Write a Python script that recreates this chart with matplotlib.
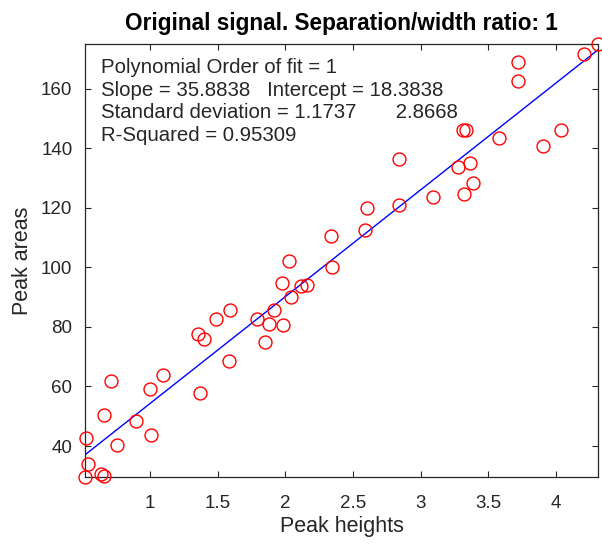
import numpy as np
import matplotlib
matplotlib.use("Agg")
import matplotlib.pyplot as plt

plt.rcParams['font.family'] = ['Liberation Sans', 'DejaVu Sans']

# Data
peak_heights = [0.52, 0.539, 0.53, 0.64, 0.66, 0.657, 0.713, 0.76, 0.897, 1.0,
                1.007, 1.093, 1.353, 1.40, 1.368, 1.49, 1.593, 1.583, 1.789, 1.848,
                1.877, 1.917, 1.98, 1.973, 2.03, 2.042, 2.118, 2.157, 2.343, 2.336,
                2.586, 2.60, 2.838, 2.838, 3.088, 3.319, 3.387, 3.365, 3.272, 3.314,
                3.336, 3.58, 3.90, 4.04, 3.716, 3.716, 4.21, 4.31]
peak_areas = [29.6, 33.8, 42.7, 30.6, 30.0, 50.5, 61.9, 40.5, 48.4, 59.2,
              43.8, 63.9, 77.6, 76.0, 57.9, 82.7, 85.7, 68.6, 82.7, 75.1,
              81.1, 85.8, 80.7, 94.7, 102.1, 90.0, 93.6, 94.2, 100.2, 110.4,
              112.5, 119.8, 121.0, 136.5, 123.5, 124.7, 128.2, 134.9, 133.8, 146.0,
              146.0, 143.3, 140.7, 146.0, 162.5, 168.9, 171.5, 175.0]

fit_order = 1
fit_slope = 35.8838
fit_intercept = 18.3838
std_slope = 1.1737
std_intercept = 2.8668
r_squared = 0.95309

x_ticks = [1, 1.5, 2, 2.5, 3, 3.5, 4]
x_tick_labels = ['1', '1.5', '2', '2.5', '3', '3.5', '4']
y_ticks = [40, 60, 80, 100, 120, 140, 160]

title = 'Original signal. Separation/width ratio: 1'
x_label = 'Peak heights'
y_label = 'Peak areas'

fig = plt.figure(figsize=(6.02, 5.44), dpi=100)
ax = fig.add_axes([85/602, 1-477/544, (598-85)/602, (477-44)/544])

ax.plot(peak_heights, peak_areas, 'o', mfc='none', mec='#ff0000', ms=9.3, mew=1.0,
        clip_on=False, zorder=3)
xmin, xmax = min(peak_heights), max(peak_heights)
xs = np.array([xmin, xmax])
ax.plot(xs, fit_slope*xs + fit_intercept, color='#0000ff', lw=1.0, zorder=2)

ax.set_xlim(xmin, xmax)
ax.set_ylim(min(peak_areas), max(peak_areas))
ax.set_xticks(x_ticks)
ax.set_xticklabels(x_tick_labels)
ax.set_yticks(y_ticks)

gray = '#262626'
ax.tick_params(direction='in', top=True, right=True, length=4, width=0.8,
               colors=gray, labelsize=13.5)
ax.tick_params(axis='x', pad=13)
ax.tick_params(axis='y', pad=9)
for s in ax.spines.values():
    s.set_color(gray)
    s.set_linewidth(0.9)

ax.set_title(title, fontsize=16.3, fontweight='bold', color='black', pad=10)
ax.set_xlabel(x_label, fontsize=15.5, color=gray, labelpad=3)
ax.set_ylabel(y_label, fontsize=15.5, color=gray, labelpad=6)

lines = [
    f'Polynomial Order of fit = {fit_order}',
    f'Slope = {fit_slope:.4f}   Intercept = {fit_intercept:.4f}',
    f'Standard deviation = {std_slope:.4f}       {std_intercept:.4f}',
    f'R-Squared = {r_squared:.5f}',
]
ax.text((101 - 85)/513, 1 - (58 - 44)/433, '\n'.join(lines), transform=ax.transAxes,
        ha='left', va='top', fontsize=14.7, color=gray, linespacing=1.24)

fig.savefig('out.png', dpi=100)
